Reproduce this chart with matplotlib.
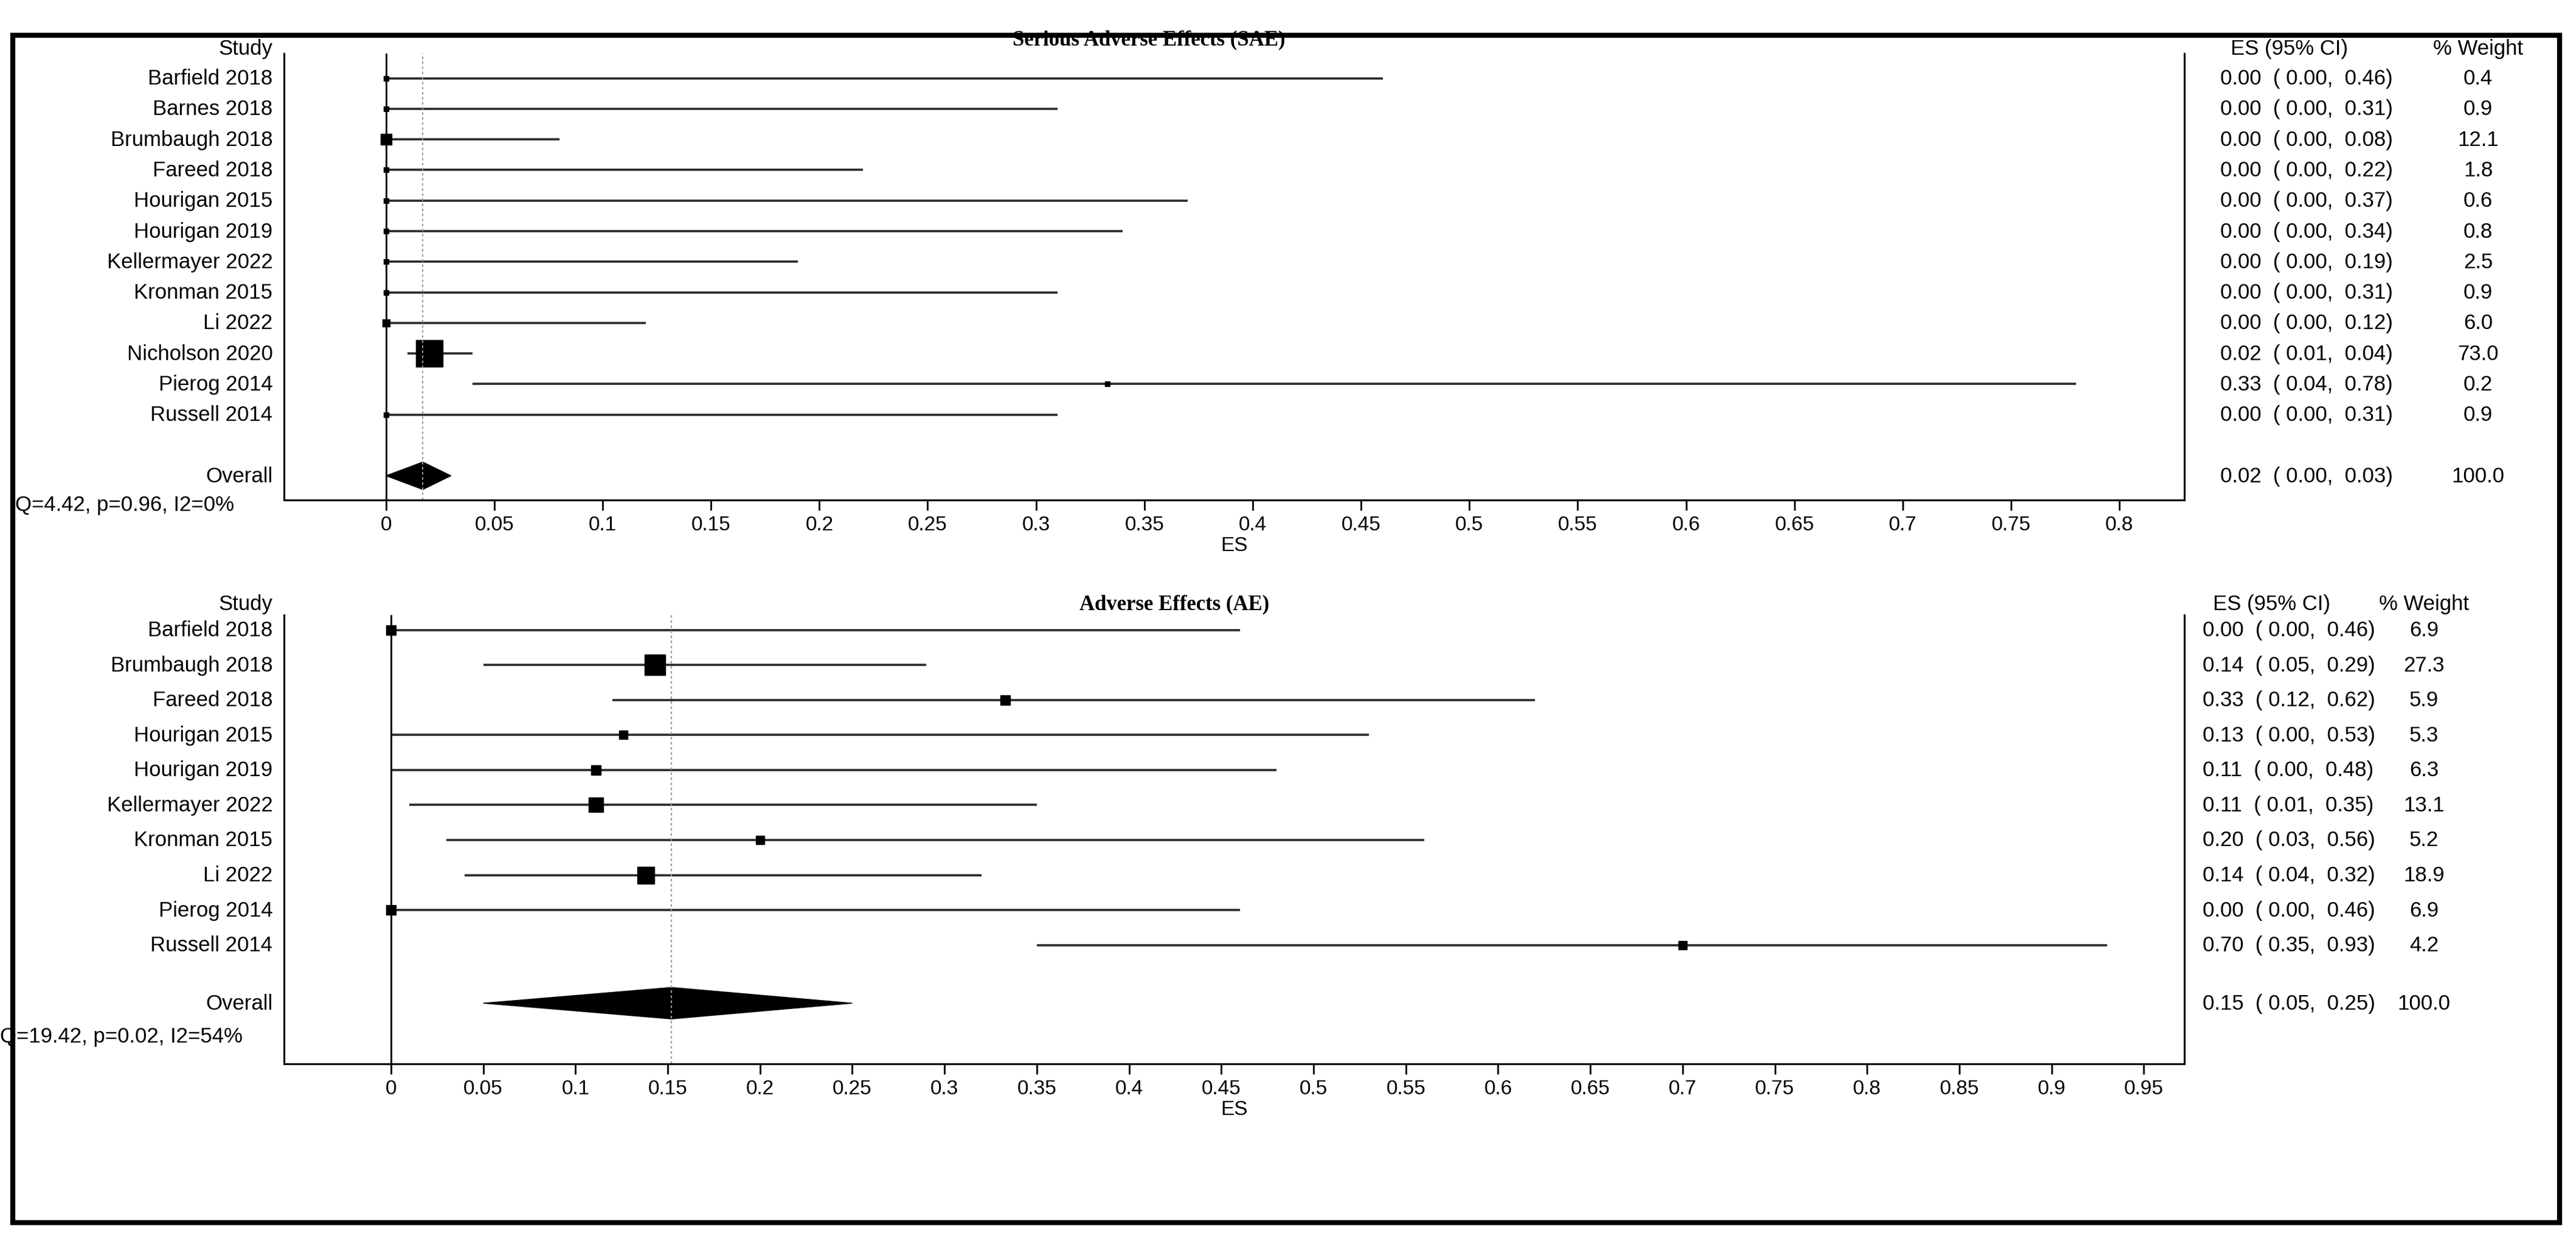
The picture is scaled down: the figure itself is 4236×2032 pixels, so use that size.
import matplotlib
matplotlib.use('Agg')
import matplotlib.pyplot as plt
from matplotlib.patches import Rectangle, Polygon
import matplotlib.transforms as mtransforms

plt.rcParams['font.family'] = ['Liberation Sans Narrow', 'Liberation Sans', 'DejaVu Sans']

# Serious Adverse Effects (SAE)
sae_studies = ['Barfield 2018', 'Barnes 2018', 'Brumbaugh 2018', 'Fareed 2018', 'Hourigan 2015',
               'Hourigan 2019', 'Kellermayer 2022', 'Kronman 2015', 'Li 2022', 'Nicholson 2020',
               'Pierog 2014', 'Russell 2014']
sae_es = [0.00, 0.00, 0.00, 0.00, 0.00, 0.00, 0.00, 0.00, 0.00, 0.02, 0.333, 0.00]
sae_lo = [0.00, 0.00, 0.00, 0.00, 0.00, 0.00, 0.00, 0.00, 0.00, 0.01, 0.04, 0.00]
sae_hi = [0.46, 0.31, 0.08, 0.22, 0.37, 0.34, 0.19, 0.31, 0.12, 0.04, 0.78, 0.31]
sae_w = [0.4, 0.9, 12.1, 1.8, 0.6, 0.8, 2.5, 0.9, 6.0, 73.0, 0.2, 0.9]
sae_overall = (0.017, 0.00, 0.03)
sae_stats = 'Q=4.42, p=0.96, I2=0%'
sae_ticks = [i * 0.05 for i in range(17)]

# Adverse Effects (AE)
ae_studies = ['Barfield 2018', 'Brumbaugh 2018', 'Fareed 2018', 'Hourigan 2015', 'Hourigan 2019',
              'Kellermayer 2022', 'Kronman 2015', 'Li 2022', 'Pierog 2014', 'Russell 2014']
ae_es = [0.00, 0.143, 0.333, 0.126, 0.111, 0.111, 0.20, 0.138, 0.00, 0.70]
ae_lo = [0.00, 0.05, 0.12, 0.00, 0.00, 0.01, 0.03, 0.04, 0.00, 0.35]
ae_hi = [0.46, 0.29, 0.62, 0.53, 0.48, 0.35, 0.56, 0.32, 0.46, 0.93]
ae_w = [6.9, 27.3, 5.9, 5.3, 6.3, 13.1, 5.2, 18.9, 6.9, 4.2]
ae_overall = (0.152, 0.05, 0.25)
ae_stats = 'Q=19.42, p=0.02, I2=54%'
ae_ticks = [i * 0.05 for i in range(20)]


def tick_label(v):
    return f'{v:.2f}'.rstrip('0').rstrip('.')


def forest(fig, rect, title, studies, es, lo, hi, w, overall, stats, ticks,
           xlim, ylim, overall_row, hdr, ms_ref, es_x, wt_x, title_x, title_dy, stats_x):
    ax = fig.add_axes(rect)
    rows = list(range(1, len(studies) + 1))
    wmax = max(w)
    for r, e, l, h, ww in zip(rows, es, lo, hi, w):
        ax.plot([l, h], [r, r], color='#2a2a2a', lw=2.6, solid_capstyle='butt')
        ms = max(6, ms_ref * (ww / wmax) ** 0.5)
        ax.plot(e, r, marker='s', ms=ms, color='black', mec='black')
    oe, ol, oh = overall
    ax.add_patch(Polygon([(ol, overall_row), (oe, overall_row - 0.45),
                          (oh, overall_row), (oe, overall_row + 0.45)],
                         closed=True, color='black'))
    ax.axvline(0, color='black', lw=2)
    ax.axvline(oe, color='#999999', lw=1.5, ls=(0, (2, 2)))
    ax.set_xlim(*xlim)
    ax.set_ylim(*ylim)
    ax.set_yticks([])
    ax.set_xticks(ticks)
    ax.set_xticklabels([tick_label(t) for t in ticks], fontsize=24)
    ax.tick_params(axis='x', length=12, width=2, pad=6)
    ax.set_xlabel('ES', fontsize=24, labelpad=2)
    ax.spines['top'].set_visible(False)
    for s in ['left', 'right', 'bottom']:
        ax.spines[s].set_linewidth(2.2)

    tr = mtransforms.blended_transform_factory(ax.transAxes, ax.transData)
    ftr = mtransforms.blended_transform_factory(fig.transFigure, ax.transData)
    kw = dict(va='center', fontsize=25, clip_on=False)
    ax.text(-0.006, hdr, 'Study', transform=tr, ha='right', **kw)
    for r, name in zip(rows, studies):
        ax.text(-0.006, r, name, transform=tr, ha='right', **kw)
    ax.text(-0.006, overall_row, 'Overall', transform=tr, ha='right', **kw)
    ax.text(stats_x, overall_row + 0.95, stats, transform=ftr, ha='left', **kw)

    ax.text(title_x, hdr + title_dy, title, transform=ftr, ha='center', va='center', fontsize=25,
            fontweight='bold', family='Liberation Serif')
    ax.text(es_x + 0.004, hdr, 'ES (95% CI)', transform=ftr, ha='left', **kw)
    ax.text(wt_x, hdr, '% Weight', transform=ftr, ha='center', **kw)
    for r, e, l, h, ww in zip(rows, es, lo, hi, w):
        ax.text(es_x, r, f'{e:.2f}  ( {l:.2f},  {h:.2f})', transform=ftr, ha='left', **kw)
        ax.text(wt_x, r, f'{ww:.1f}', transform=ftr, ha='center', **kw)
    ax.text(es_x, overall_row, f'{oe:.2f}  ( {ol:.2f},  {oh:.2f})', transform=ftr, ha='left', **kw)
    ax.text(wt_x, overall_row, '100.0', transform=ftr, ha='center', **kw)
    return ax


fig = plt.figure(figsize=(42.36, 20.33), dpi=100)

forest(fig, [0.1103, 0.595, 0.7377, 0.361], 'Serious Adverse Effects (SAE)',
       sae_studies, sae_es, sae_lo, sae_hi, sae_w, sae_overall, sae_stats, sae_ticks,
       (-0.047, 0.830), (14.8, 0.2), 14.0, 0.03, 31, 0.862, 0.962, 0.446, -0.3, 0.006)

forest(fig, [0.1103, 0.139, 0.7377, 0.363], 'Adverse Effects (AE)',
       ae_studies, ae_es, ae_lo, ae_hi, ae_w, ae_overall, ae_stats, ae_ticks,
       (-0.0579, 0.972), (13.4, 0.58), 11.66, 0.25, 24, 0.855, 0.941, 0.456, 0.0, 0.0)

fig.patches.append(Rectangle((0.005, 0.0106), 0.9886, 0.9604, transform=fig.transFigure,
                             fill=False, lw=6, edgecolor='black'))

fig.savefig('out.png', dpi=100, facecolor='white')
